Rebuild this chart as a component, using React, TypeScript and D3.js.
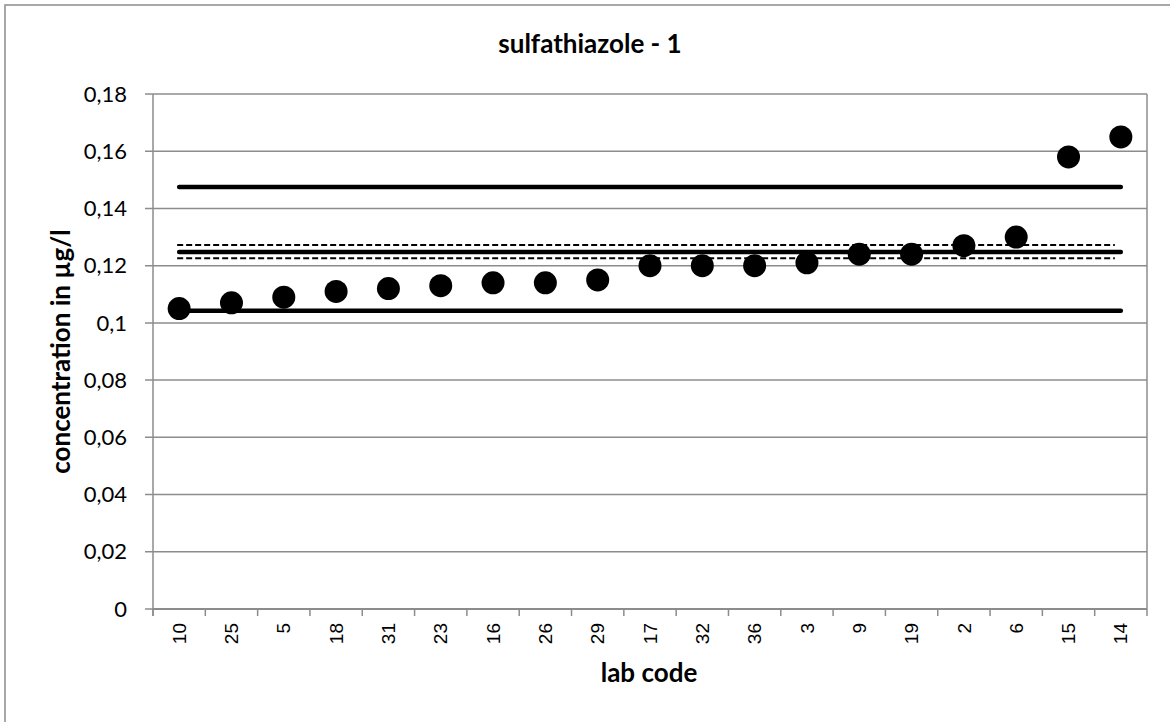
import React from "react";
import * as d3 from "d3";

const labCodes = ["10","25","5","18","31","23","16","26","29","17","32","36","3","9","19","2","6","15","14"];
const concentrations = [0.105,0.107,0.109,0.111,0.112,0.113,0.114,0.114,0.115,0.120,0.120,0.120,0.121,0.124,0.124,0.127,0.130,0.158,0.165];
const yTicks = [0,0.02,0.04,0.06,0.08,0.1,0.12,0.14,0.16,0.18];
const solidLines = [0.1475, 0.1248, 0.1042];
const dashedLines = [0.1272, 0.1226];

const W = 1170, H = 722;
const m = { left: 153, right: 1147, top: 94, bottom: 609 };

export default function App() {
  const x = d3.scaleBand<string>().domain(labCodes).range([m.left, m.right]).padding(0);
  const y = d3.scaleLinear().domain([0, 0.18]).range([m.bottom, m.top]);
  const cx = (c: string) => (x(c) as number) + x.bandwidth() / 2;
  const fmt = (v: number) => (v === 0 ? "0" : String(+v.toFixed(2)).replace(".", ","));
  const xStart = cx(labCodes[0]);
  const xEnd = cx(labCodes[labCodes.length - 1]);
  const grid = "#8c8c8c";
  const font = "Lato, 'Open Sans', sans-serif";
  return (
    <svg width={W} height={H} style={{ position: "absolute", left: 0, top: 0, background: "#fff" }}>
      <rect x={5} y={5} width={W + 10} height={H + 10} fill="#fff" stroke="#8c8c8c" strokeWidth={1.5} />
      <text x={590} y={53} textAnchor="middle" fontFamily={font} fontWeight="bold" fontSize={26}>sulfathiazole - 1</text>
      {yTicks.map((t) => (
        <g key={t}>
          <line x1={m.left - 8} x2={m.right} y1={y(t)} y2={y(t)} stroke={grid} strokeWidth={1.5} />
          <text x={m.left - 26} y={y(t)} dy="0.35em" textAnchor="end" fontFamily={font} fontSize={22}>{fmt(t)}</text>
        </g>
      ))}
      <line x1={m.left} x2={m.left} y1={m.top} y2={m.bottom + 7} stroke={grid} strokeWidth={1.5} />
      <line x1={m.right} x2={m.right} y1={m.top} y2={m.bottom + 7} stroke={grid} strokeWidth={1.5} />
      <line x1={m.left} x2={m.right} y1={m.bottom} y2={m.bottom} stroke={grid} strokeWidth={2} />
      {labCodes.map((c) => (
        <g key={c}>
          <line x1={x(c) as number} x2={x(c) as number} y1={m.bottom} y2={m.bottom + 7} stroke={grid} strokeWidth={1.5} />
          <text transform={`translate(${cx(c)},${m.bottom + 14}) rotate(-90)`} dy="0.35em" textAnchor="end" fontFamily="'Liberation Sans', Arial, sans-serif" fontSize={19}>{c}</text>
        </g>
      ))}
      {dashedLines.map((v) => (
        <line key={"d" + v} x1={xStart - 2} x2={xEnd - 6} y1={y(v)} y2={y(v)} stroke="#000" strokeWidth={2} strokeDasharray="6,3" />
      ))}
      {solidLines.map((v) => (
        <line key={"s" + v} x1={xStart} x2={xEnd} y1={y(v)} y2={y(v)} stroke="#000" strokeWidth={4.5} strokeLinecap="round" />
      ))}
      {labCodes.map((c, i) => (
        <circle key={"p" + c} cx={cx(c)} cy={y(concentrations[i])} r={11.5} fill="#000" />
      ))}
      <text transform={`translate(61,${(m.top + m.bottom) / 2}) rotate(-90)`} dy="0.35em" textAnchor="middle" fontFamily={font} fontWeight="bold" fontSize={26}>concentration in µg/l</text>
      <text x={649} y={682} textAnchor="middle" fontFamily={font} fontWeight="bold" fontSize={26}>lab code</text>
    </svg>
  );
}
